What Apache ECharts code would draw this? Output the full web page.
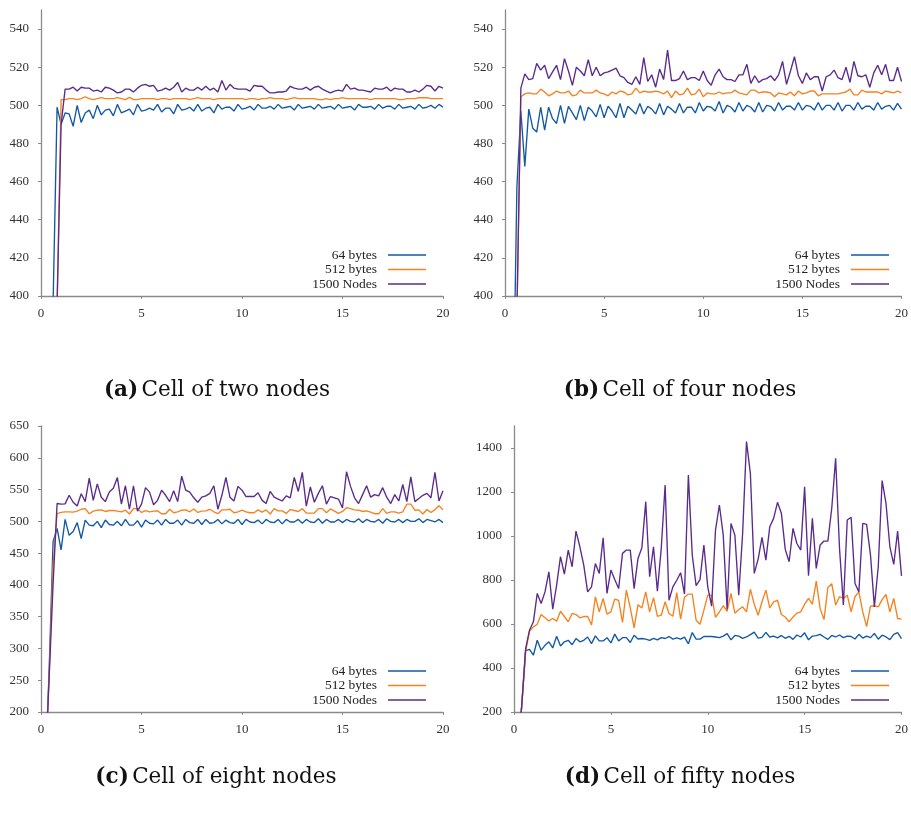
<!DOCTYPE html>
<html>
<head>
<meta charset="utf-8">
<script src="https://cdn.jsdelivr.net/npm/echarts@6/dist/echarts.min.js"></script>
<style>html,body{margin:0;padding:0;background:#fff}#chart{width:911px;height:819px}</style>
</head>
<body>
<div id="chart"></div>
<script>
// time (x) samples
const time = [0,0.2,0.4,0.6,0.8,
1,1.2,1.4,1.6,1.8,2,2.2,2.4,2.6,2.8,3,3.2,3.4,3.6,3.8,4,4.2,4.4,4.6,4.8,
5,5.2,5.4,5.6,5.8,6,6.2,6.4,6.6,6.8,7,7.2,7.4,7.6,7.8,8,8.2,8.4,8.6,8.8,
9,9.2,9.4,9.6,9.8,10,10.2,10.4,10.6,10.8,11,11.2,11.4,11.6,11.8,12,12.2,12.4,12.6,12.8,
13,13.2,13.4,13.6,13.8,14,14.2,14.4,14.6,14.8,15,15.2,15.4,15.6,15.8,16,16.2,16.4,16.6,16.8,
17,17.2,17.4,17.6,17.8,18,18.2,18.4,18.6,18.8,19,19.2,19.4,19.6,19.8,20];

const seriesNames = ['64 bytes', '512 bytes', '1500 Nodes'];
const xTicks = [0, 5, 10, 15, 20];

// (a) Cell of two nodes
const a64 = [null,null,300,395,499,
490,496,495.5,489,500, 491,496,497.5,493,500, 495,497.5,498,494.5,500.5, 496,497,498,495,500.5,
497,497.5,498.5,497.5,500.5, 496.5,498.5,498.5,495.5,500.5, 497.5,498,499,497,500.5, 497,498.5,499,496,500.5,
498,499,499,497,500.5, 498,498.5,499.5,497.5,500.5, 498.5,498.5,499.5,498,500.5, 498.5,499,499.5,497.5,500.5,
498.5,499,499.5,498,500.5, 498.5,499,499.5,498,500.5, 498.5,499,499.5,497.5,500.5, 499,499,499.5,498,500.5,
498.5,499.5,499.5,498,500.5, 498.5,499,499.5,498,500.5, 498.5,499,500,498.5,500.5, 499];
const a512 = [null,null,null,300,395,
503,503,503.5,503.5,503, 503.5,504.5,503.5,503,503.5, 504,503.5,503.5,503.5,504, 503.5,503,504.2,503,503,
503.5,503.5,503.5,503.5,503, 503.5,503.5,503,503.5,503.5, 503.5,503.5,503,503.5,504, 503.5,503.5,503.5,503,503.5,
503.5,503.5,503.5,503.5,503.5, 503.5,503,503.5,503.5,503, 503.5,503.5,504,503.5,503.5, 503.5,503,503.5,504,503.5,
503.5,503.5,503.5,503.5,503, 503,503.5,503,503.5,503.5, 504,503.5,503.5,503.5,503.5, 503.5,503.5,503,503.5,503.5,
503.5,503.5,503.5,503.5,503, 503,503.5,503.5,503.5,504, 504,504,503.5,503.5,503.5, 503.5];
const a1500 = [null,null,null,300,395,
490,508.5,508.5,509.5,507.5, 509.5,509,509,507.5,508, 507,509.5,509,508,506.5, 507,508.5,508.5,507,509,
510.5,511,510,510.5,507.5, 508,509,508,509.5,512, 507,509,508,508,509.5, 508,510,508,509,507,
513,508,511,509,508.5, 508.5,508.5,507.5,510.5,510, 510,508,506.5,506.5,507, 507,507.5,510,509,508.5,
508.5,509.5,508,509.5,510, 508.5,507.5,506.5,507.5,508, 507.5,511,508.5,509,508, 508,507.5,507,509,508.5,
508.5,509.5,507.5,509,508.5, 508.5,507,507,508,507, 508.5,510.5,510,507.5,510, 509];

// (b) Cell of four nodes
const b64 = [null,null,330,457,497,
468,498,488,486,499, 487,499,493,490.5,500, 490.5,499.5,496,492.5,500, 492,499,497,494,500.5,
493.5,499.5,497,493.5,501, 493.5,499.5,497.5,495.5,501, 495.5,499.5,498,495.5,501, 495,499.5,498,496,501,
496,499,499,496,501.5, 497,499.5,499,497,502, 496,500,499,496.5,501.5, 497,500,499,496.5,501.5,
496.5,500,499.5,497,501.5, 497.5,499.5,499.5,497.5,501.5, 497.5,500,499.5,497.5,501.5, 497.5,500,500,497.5,501.5,
497,500,500,497.5,501.5, 498,499.5,499.5,497.5,501.5, 498,499.5,500,497.5,501, 498];
const b512 = [null,null,null,390,504.5,
506,506.5,506,506,508.5, 507,505,506,507.5,506.5, 506.5,507.5,505,505.5,508, 506.5,506.5,506.5,508,506.5,
506,505,507,506,507.5, 507,505.5,506,509,506.5, 507.5,507,507,507.5,507, 506,507.5,504,507.5,505.5,
506,509,505.5,506,508.5, 504.5,506.5,506,506,507, 506,506.5,506.5,508,506.5, 506,505.5,508,508,506.5,
507,507,506.5,504.5,506.5, 506,505.5,507,505,507.5, 506,506.5,507.5,507.5,505, 506,506,506,506,506,
506.5,507,508.5,505.5,505.5, 508,507,507,507,507, 506,507.5,507,506.5,507.5, 506.5];
const b1500 = [null,null,null,390,509,
516.5,513.5,514,522,518.5, 521,514,517.5,521,513.5, 524.5,518,510.5,520,518, 515.5,524,515.5,520,515.5,
517,517.5,518.5,519.5,515.5, 514.5,512,511,515,511, 525,512.5,516,509.5,519, 513.5,529,513,513,514,
518,513.5,514.5,514.5,513, 518,513,510.5,516,519, 515,513.5,513.5,512.5,516, 516,521.5,511.5,515.5,512,
513.5,514,515.5,513,516, 523,511,518,525.5,515.5, 511.5,517,513.5,515,515, 507.5,515,516,518.5,514.5,
513.5,520,512,523,515.5, 515,516,509.5,517,521, 516,521.5,513,513,520, 512.5];

// (c) Cell of eight nodes
const c64 = [null,100,260,468,489,
455,503,478,484,498, 473,502,494,493,500, 490,502,495,494,500, 493,503,494,494,501,
491,502,497,496,502, 494,503,497,497,502, 494,503,498,497,503, 495,503,497,498,503,
496,502,498,497,503, 495,503,499,498,502, 496,503,499,498,503, 496,503,499,499,503,
497,503,499,498,504, 497,503,499,499,503, 498,503,500,499,504, 498,503,500,499,503,
497,504,500,499,503, 498,503,500,500,504, 498,503,501,499,503, 498];
const c512 = [null,100,255,430,512,
514,515,515,514.5,516, 519,520,512,516,517.5, 518,515.5,517,517,516, 515,517.5,511.5,520,520,
514,517,515,516,516.5, 512,512,519,513.5,515, 517.5,518,515,519.5,514, 516,516.5,519,515,512,
518,518,519,513.5,515, 517.5,515,513.5,513.5,518, 514.5,518,511.5,520,516.5, 516.5,512.5,518.5,517,515.5,
520,513,513,513,520, 520,513.5,519.5,516,512.5, 515.5,521.5,520,518,517.5, 515.5,516.5,514.5,512,512,
520,512.5,515,515,513, 515,527,527,517.5,518, 511.5,518.5,514,518.5,524.5, 518];
const c1500 = [null,100,250,400,528,
527,527.5,541,530,524, 543.5,531,568,533,559, 538,531,546,552,569, 527,556,519,556,516,
527,553,546,526,533, 549,541,531,548,531, 571,549,546,537,530, 538,540,544,556,519,
541,569,538,532,555, 549,539,539,539,545, 533,528,547,538,535, 532,540,537,569,547,
577,524,554,530,544, 556,527,539,537,535, 521,578,555,537,528, 542,556,538,542,540,
553,538,528,542,532, 558,531,570,531,536, 541,544,537,577,532, 548];

// (d) Cell of fifty nodes
const d64 = [null,30,230,479,485,
458,526,481,503,519, 491,544,500,519,526, 506,534,519,526,541, 511,546,523,523,538,
514,554,523,538,538, 516,549,532,534,531, 526,535,528,538,534, 543,531,537,531,540,
510,561,531,531,543, 543,543,541,538,545, 556,528,548,545,535, 541,552,563,536,539,
562,541,545,537,548, 535,544,530,550,541, 560,528,545,547,553, 541,530,548,541,550,
538,545,543,532,553, 536,545,538,557,531, 549,541,529,553,561, 534];
const d512 = [null,30,230,475,567,
587,599,643,628,614, 625,613,658,634,610, 648,643,628,634,635, 595,724,655,716,645,
655,713,707,607,754, 673,582,688,673,746, 655,720,635,640,701, 648,635,743,622,722,
736,736,617,599,663, 731,731,630,655,683, 658,739,649,666,678, 655,758,690,640,701,
754,673,701,708,643, 632,610,632,649,655, 690,716,690,795,670, 620,766,783,686,724,
716,731,655,724,746, 655,588,681,683,678, 711,734,655,716,625, 622];
const d1500 = [null,30,230,488,572,
610,739,693,746,837, 667,777,906,827,936, 860,1022,951,868,746, 769,875,830,992,739,
845,802,761,921,936, 936,761,898,947,1156, 815,951,749,944,1232, 708,769,799,833,736,
1277,913,774,802,959, 769,681,1027,1141,1004, 667,1057,1004,731,1012, 1429,1285,830,895,994,
890,1042,1080,1153,1103, 939,883,1035,966,936, 1224,819,1080,853,959, 977,977,1126,1353,944,
686,1073,1085,784,746, 1057,1053,913,678,860, 1252,1148,951,871,1022, 819];

const colors = ['#1259a5', '#f5821f', '#5a2a8c'];
const SERIF = '"Liberation Serif", "DejaVu Serif", serif';
const CAPFONT = '"DejaVu Serif", serif';

const panels = [
  {data:[a64,a512,a1500], y:{min:400,max:550,interval:20,hideMax:true}, grid:{left:41,top:10,width:402,height:286}, legend:{right:480,top:243}, cap:{x:217,y:390,l:'(a)',t:'Cell of two nodes'}},
  {data:[b64,b512,b1500], y:{min:400,max:550,interval:20,hideMax:true}, grid:{left:505,top:10,width:401,height:286}, legend:{right:17,top:243}, cap:{x:680,y:390,l:'(b)',t:'Cell of four nodes'}},
  {data:[c64,c512,c1500], y:{min:200,max:650,interval:50,hideMax:false}, grid:{left:41,top:426,width:402,height:286}, legend:{right:480,top:659}, cap:{x:216,y:777,l:'(c)',t:'Cell of eight nodes'}},
  {data:[d64,d512,d1500], y:{min:200,max:1500,interval:200,hideMax:true}, grid:{left:514,top:426,width:392,height:286}, legend:{right:17,top:659}, cap:{x:680,y:777,l:'(d)',t:'Cell of fifty nodes'}}
];

const axisColor = '#8a8a8a';
const labelStyle = {color:'#333', fontFamily:SERIF, fontSize:13};

const option = {
  animation:false,
  backgroundColor:'#fff',
  grid: panels.map(p => Object.assign({containLabel:false}, p.grid)),
  xAxis: panels.map((p,i) => ({
    type:'value', gridIndex:i, min:xTicks[0], max:xTicks[xTicks.length-1], interval:xTicks[1]-xTicks[0],
    axisLine:{lineStyle:{color:axisColor, width:1.3}},
    axisTick:{length:3, lineStyle:{color:axisColor, width:1}},
    splitLine:{show:false},
    axisLabel:Object.assign({margin:11, formatter:v => String(v)}, labelStyle)
  })),
  yAxis: panels.map((p,i) => ({
    type:'value', gridIndex:i, min:p.y.min, max:p.y.max, interval:p.y.interval,
    axisLine:{show:true, lineStyle:{color:axisColor, width:1.3}},
    axisTick:{show:true, length:3, lineStyle:{color:axisColor, width:1}},
    splitLine:{show:false},
    axisLabel:Object.assign({margin:12, showMaxLabel:!p.y.hideMax, formatter:v => String(v)}, labelStyle)
  })),
  legend: panels.map((p,i) => ({
    orient:'vertical', align:'right', right:p.legend.right, top:p.legend.top,
    icon:'rect', itemWidth:38, itemHeight:1.6, itemGap:0.5, selectedMode:false,
    data:seriesNames,
    textStyle:{color:'#222', fontFamily:SERIF, fontSize:13.5, lineHeight:14, padding:[0,6,0,0]}
  })),
  series: [],
  graphic: panels.map(p => ({
    type:'text', x:p.cap.x, y:p.cap.y,
    style:{
      text:'{b|' + p.cap.l + '} {n|' + p.cap.t + '}',
      align:'center', verticalAlign:'middle',
      rich:{
        b:{fontFamily:CAPFONT, fontSize:21.5, fontWeight:'bold', fill:'#111'},
        n:{fontFamily:CAPFONT, fontSize:21.5, fill:'#111'}
      }
    }
  }))
};

panels.forEach((p,i) => {
  p.data.forEach((vals,k) => {
    option.series.push({
      type:'line', name:seriesNames[k], xAxisIndex:i, yAxisIndex:i,
      data: time.map((t,j) => [t, vals[j]]),
      showSymbol:false, symbol:'none', clip:true,
      lineStyle:{color:colors[k], width:1.35},
      itemStyle:{color:colors[k]},
      emphasis:{disabled:true}
    });
  });
});

const chart = echarts.init(document.getElementById('chart'), null, {renderer:'canvas'});
chart.setOption(option);
</script>
</body>
</html>
